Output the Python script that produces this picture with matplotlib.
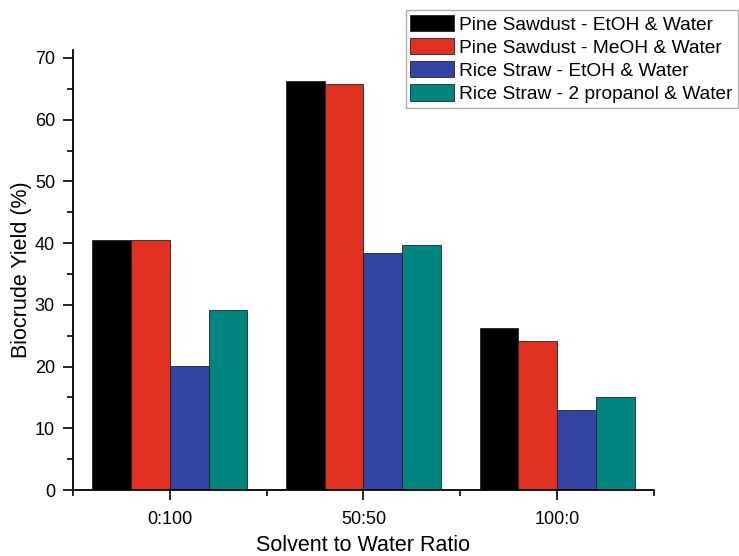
import numpy as np
import matplotlib
matplotlib.use("Agg")
import matplotlib.pyplot as plt
from matplotlib.ticker import MultipleLocator

plt.rcParams['font.family'] = ['Liberation Sans', 'DejaVu Sans']

ratios = ["0:100", "50:50", "100:0"]
series = ["Pine Sawdust - EtOH & Water", "Pine Sawdust - MeOH & Water",
          "Rice Straw - EtOH & Water", "Rice Straw - 2 propanol & Water"]
pine_etoh = [40.5, 66.2, 26.2]
pine_meoh = [40.5, 65.8, 24.2]
rice_etoh = [20.1, 38.4, 13.0]
rice_prop = [29.1, 39.7, 15.1]
colors = ["#000000", "#e0301f", "#3343a3", "#008580"]

fig = plt.figure(figsize=(7.39, 5.56), dpi=100)
ax = fig.add_axes([0.0988, 0.1187, 0.786, 0.791])

x = np.arange(1, len(ratios) + 1)
w = 0.2
for i, (vals, lab) in enumerate(zip([pine_etoh, pine_meoh, rice_etoh, rice_prop], series)):
    ax.bar(x + (i - 1.5) * w, vals, w, color=colors[i], edgecolor="#222222",
           linewidth=0.6, label=lab)

ax.set_xlim(0.5, 3.5)
ax.set_ylim(0, 71.25)
ax.set_xticks(x)
ax.set_xticklabels(ratios)
ax.xaxis.set_minor_locator(MultipleLocator(1.0, offset=0.5))
ax.yaxis.set_major_locator(MultipleLocator(10))
ax.yaxis.set_minor_locator(MultipleLocator(5))
ax.tick_params(axis='both', which='major', direction='out', length=7, width=1.2,
               labelsize=13, pad=6)
ax.tick_params(axis='x', which='major', pad=8)
ax.tick_params(axis='both', which='minor', direction='out', length=4, width=1.2)
ax.spines['top'].set_visible(False)
ax.spines['right'].set_visible(False)
ax.spines['left'].set_linewidth(1.3)
ax.spines['bottom'].set_linewidth(1.3)

ax.set_xlabel("Solvent to Water Ratio", fontsize=15.5, labelpad=5)
ax.set_ylabel("Biocrude Yield (%)", fontsize=15.5, labelpad=2)

leg = ax.legend(loc='upper right', bbox_to_anchor=(0.998, 0.982),
                bbox_transform=fig.transFigure, fontsize=13.8, frameon=True,
                fancybox=False, edgecolor="#999999", handlelength=2.3,
                handleheight=0.95, labelspacing=0.22, handletextpad=0.25,
                borderpad=0.25, borderaxespad=0)
leg.get_frame().set_linewidth(1.0)

fig.savefig("out.png", dpi=100)
